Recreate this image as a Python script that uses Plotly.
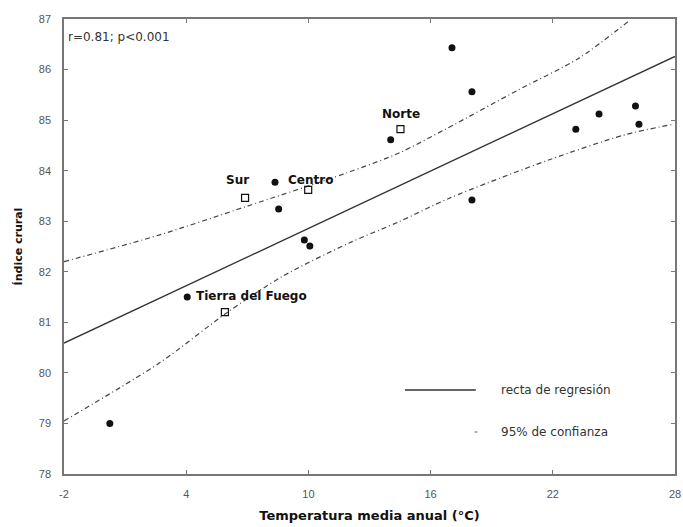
import plotly.graph_objects as go

# Individual samples (filled circles)
temp_pts = [0.25, 4.05, 8.36, 8.54, 9.8, 10.07, 14.04, 17.05, 18.03, 18.03, 23.13, 24.27, 26.06, 26.23]
crural_pts = [79.0, 81.5, 83.77, 83.24, 82.63, 82.51, 84.61, 86.43, 85.56, 83.42, 84.82, 85.12, 85.28, 84.92]

# Regional means (open squares)
region_names = ["Sur", "Centro", "Norte", "Tierra del Fuego"]
region_temp = [6.89, 9.99, 14.52, 5.9]
region_crural = [83.46, 83.62, 84.82, 81.2]

# Regression line
reg_x = [-2, 28]
reg_y = [80.59, 86.26]

# 95% confidence bands
up_x = [-2.0, 2.7, 6.94, 11.84, 14.45, 16.73, 20.32, 23.26, 25.7]
up_y = [82.2, 82.73, 83.29, 83.95, 84.35, 84.82, 85.6, 86.22, 86.95]
lo_x = [-2.0, 2.7, 5.96, 8.73, 12.0, 14.45, 16.89, 21.79, 25.54, 27.82]
lo_y = [79.05, 80.2, 81.18, 81.91, 82.57, 82.99, 83.45, 84.21, 84.71, 84.91]

x_ticks = [-2, 4, 10, 16, 22, 28]
y_ticks = [78, 79, 80, 81, 82, 83, 84, 85, 86, 87]

FONT = "Liberation Sans, Arial, sans-serif"
WIDE = "DejaVu Sans, Verdana, sans-serif"
ci_dash = "5px,3px,1px,3px"

fig = go.Figure()
fig.add_trace(go.Scatter(x=reg_x, y=reg_y, mode="lines",
                         line=dict(color="#333333", width=1.3), showlegend=False))
fig.add_trace(go.Scatter(x=up_x, y=up_y, mode="lines", line_shape="spline",
                         line=dict(color="#444444", width=1.2, dash=ci_dash, smoothing=0.8),
                         showlegend=False))
fig.add_trace(go.Scatter(x=lo_x, y=lo_y, mode="lines", line_shape="spline",
                         line=dict(color="#444444", width=1.2, dash=ci_dash, smoothing=0.8),
                         showlegend=False))
fig.add_trace(go.Scatter(x=temp_pts, y=crural_pts, mode="markers",
                         marker=dict(symbol="circle", size=7, color="#111111"), showlegend=False))
fig.add_trace(go.Scatter(x=region_temp, y=region_crural, mode="markers",
                         marker=dict(symbol="square-open", size=7, color="#111111",
                                     line=dict(width=1.2)), showlegend=False))

# Region labels
label_pos = {
    "Sur": dict(xshift=-8, yshift=18, xanchor="center"),
    "Centro": dict(xshift=-22, yshift=10, xanchor="left"),
    "Norte": dict(xshift=1, yshift=15, xanchor="center"),
    "Tierra del Fuego": dict(xshift=-31, yshift=16, xanchor="left"),
}
for name, tx, ty in zip(region_names, region_temp, region_crural):
    p = label_pos[name]
    fig.add_annotation(x=tx, y=ty, text="<b>" + name + "</b>", showarrow=False,
                       xshift=p["xshift"], yshift=p["yshift"], xanchor=p["xanchor"],
                       font=dict(family=WIDE, size=12, color="#111111"))

fig.add_annotation(xref="paper", yref="paper", x=0.003, y=0.96, xanchor="left", yanchor="middle",
                   text="r=0.81; p<0.001", showarrow=False,
                   font=dict(family=WIDE, size=12, color="#333333"))

# Manual legend
fig.add_shape(type="line", xref="paper", yref="paper", x0=0.558, x1=0.674, y0=0.1846, y1=0.1846,
              line=dict(color="#333333", width=1.3))
fig.add_annotation(xref="paper", yref="paper", x=0.712, y=0.1846, xanchor="left", yanchor="middle",
                   text="recta de regresión", showarrow=False,
                   font=dict(family=WIDE, size=12, color="#333333"))
fig.add_shape(type="line", xref="paper", yref="paper", x0=0.672, x1=0.682, y0=0.0923, y1=0.0923,
              line=dict(color="#666666", width=1.2, dash="dot"))
fig.add_annotation(xref="paper", yref="paper", x=0.712, y=0.0923, xanchor="left", yanchor="middle",
                   text="95% de confianza", showarrow=False,
                   font=dict(family=WIDE, size=12, color="#333333"))

axis_common = dict(showgrid=False, zeroline=False, showline=True, linecolor="#777777", linewidth=1.5,
                   mirror="ticks", ticks="inside", ticklen=4, tickcolor="#777777", automargin=False,
                   tickfont=dict(family=FONT, size=11, color="#555555"))

fig.update_xaxes(range=[-2, 28], tickvals=x_ticks, ticktext=[str(v) for v in x_ticks],
                 ticklabelstandoff=9,
                 title=dict(text="<b>Temperatura media anual (°C)</b>", standoff=12,
                            font=dict(family=WIDE, size=13, color="#111111")),
                 **axis_common)
fig.update_yaxes(range=[78, 87], tickvals=y_ticks, ticktext=[str(v) for v in y_ticks],
                 ticklabelstandoff=9,
                 title=dict(text="<b>Índice crural</b>", standoff=14,
                            font=dict(family=WIDE, size=11, color="#111111")),
                 **axis_common)

fig.update_layout(width=683, height=527, plot_bgcolor="white", paper_bgcolor="white",
                  margin=dict(l=64, r=8, t=19, b=53, autoexpand=False), showlegend=False)

fig.write_html("out.html", config={"displayModeBar": False},
               post_script="document.body.style.margin='0px';")
